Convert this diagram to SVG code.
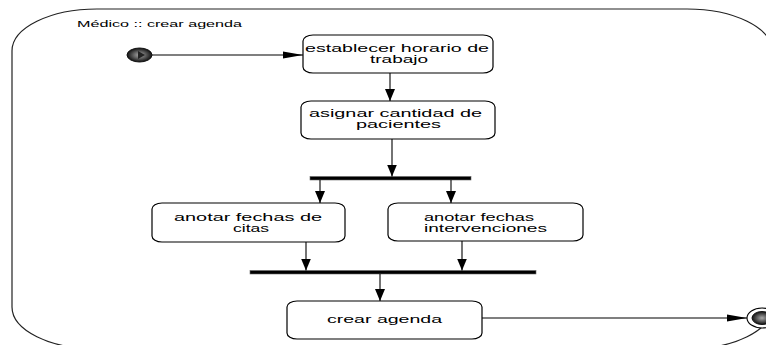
<svg xmlns="http://www.w3.org/2000/svg" width="766" height="345" viewBox="0 0 766 345">
<style>
.frame{fill:none;stroke:#222;stroke-width:1.2}
.act rect{fill:#fff;stroke:#000;stroke-width:1.2}
text{font-family:"Liberation Sans",Arial,sans-serif;font-size:10px;fill:#000}
.title{font-size:9px}
.c line{stroke:#000;stroke-width:1.1;fill:none}
.bar{fill:#000;stroke:#666;stroke-width:0.6}
</style>
<defs>
<marker id="ah" markerUnits="userSpaceOnUse" markerWidth="22" markerHeight="10" refX="20" refY="4" orient="auto">
<path d="M0,0.5 L20,4 L0,7.5 z" fill="#000"/>
</marker>
<marker id="av" markerUnits="userSpaceOnUse" markerWidth="14" markerHeight="12" refX="12" refY="5" orient="auto">
<path d="M0,0 L12,5 L0,10 z" fill="#000"/>
</marker>
<radialGradient id="ball" cx="0.5" cy="0.5" r="0.5">
<stop offset="0" stop-color="#aaa"/>
<stop offset="0.45" stop-color="#666"/>
<stop offset="1" stop-color="#111"/>
</radialGradient>
</defs>
<g id="frame">
<path class="frame" d="M12,51 A85,42 0 0 1 97,9 L687,9 A85,42 0 0 1 772,51 L772,307 A85,42 0 0 1 687,349 L97,349 A85,42 0 0 1 12,307 Z"/>
<text class="title" x="77" y="27" textLength="165" lengthAdjust="spacingAndGlyphs">Médico :: crear agenda</text>
</g>
<g id="start">
<ellipse cx="139.5" cy="55" rx="12.5" ry="7" fill="url(#ball)" stroke="#111" stroke-width="1"/>
<path d="M138,51 L145,55 L138,59 z" fill="#222"/>
</g>
<g id="end">
<ellipse cx="762" cy="318" rx="15" ry="10" fill="#fff" stroke="#000" stroke-width="1.1"/>
<ellipse cx="762" cy="318" rx="10" ry="6.5" fill="url(#ball)" stroke="#111" stroke-width="1"/>
</g>
<g id="n1" class="act">
<rect x="303" y="35" width="190" height="38" rx="10" ry="6"/>
<text x="305" y="52" textLength="184" lengthAdjust="spacingAndGlyphs">establecer horario de</text>
<text x="370" y="63" textLength="58" lengthAdjust="spacingAndGlyphs">trabajo</text>
</g>
<g id="n2" class="act">
<rect x="301" y="101" width="194" height="38" rx="10" ry="6"/>
<text x="309" y="117" textLength="173" lengthAdjust="spacingAndGlyphs">asignar cantidad de</text>
<text x="356" y="128" textLength="85" lengthAdjust="spacingAndGlyphs">pacientes</text>
</g>
<g id="fork">
<rect class="bar" x="310" y="176.5" width="161" height="3.5"/>
</g>
<g id="n3" class="act">
<rect x="152" y="203" width="193" height="39" rx="10" ry="6"/>
<text x="174" y="221" textLength="148" lengthAdjust="spacingAndGlyphs">anotar fechas de</text>
<text x="233" y="232" textLength="36" lengthAdjust="spacingAndGlyphs">citas</text>
</g>
<g id="n4" class="act">
<rect x="388" y="203" width="195" height="38" rx="10" ry="6"/>
<text x="424" y="221" textLength="110" lengthAdjust="spacingAndGlyphs">anotar fechas</text>
<text x="424" y="232" textLength="123" lengthAdjust="spacingAndGlyphs">intervenciones</text>
</g>
<g id="join">
<rect class="bar" x="250" y="270.5" width="286" height="3.5"/>
</g>
<g id="n5" class="act">
<rect x="287" y="301" width="195" height="38" rx="10" ry="6"/>
<text x="327" y="323" textLength="115" lengthAdjust="spacingAndGlyphs">crear agenda</text>
</g>
<g id="connectors" class="c">
<line x1="152" y1="55" x2="303" y2="55" marker-end="url(#ah)"/>
<line x1="390" y1="73" x2="390" y2="101" marker-end="url(#av)"/>
<line x1="392" y1="139" x2="392" y2="176.5" marker-end="url(#av)"/>
<line x1="320" y1="180" x2="320" y2="203" marker-end="url(#av)"/>
<line x1="451" y1="180" x2="451" y2="203" marker-end="url(#av)"/>
<line x1="306" y1="242" x2="306" y2="270.5" marker-end="url(#av)"/>
<line x1="462" y1="241" x2="462" y2="270.5" marker-end="url(#av)"/>
<line x1="380" y1="274" x2="380" y2="301" marker-end="url(#av)"/>
<line x1="482" y1="318" x2="747" y2="318" marker-end="url(#ah)"/>
</g>
</svg>
